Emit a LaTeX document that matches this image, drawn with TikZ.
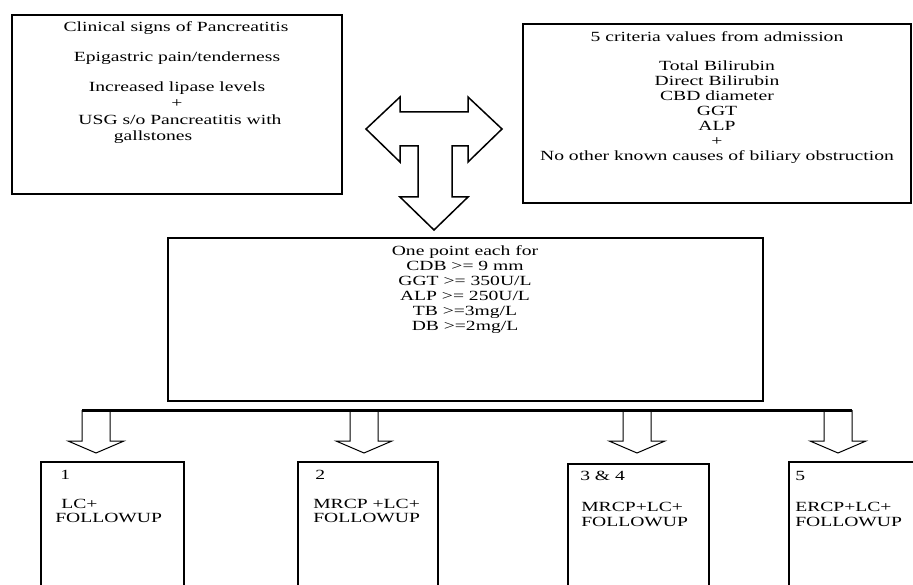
\documentclass[tikz,border=0pt]{standalone}
\usepackage{fontspec}
\setmainfont{Liberation Serif}
\usetikzlibrary{positioning}
\tikzset{
  box/.style={draw, line width=1.5pt, rectangle, inner sep=0pt},
  txt/.style={inner sep=0pt, xscale=1.4, font=\fontsize{14}{15}\selectfont, align=center},
  ltxt/.style={txt, anchor=west, align=left},
  blockarrow/.style={draw, line width=1pt, line join=miter},
}

\begin{document}
\begin{tikzpicture}[x=1pt,y=-1pt]
            \useasboundingbox (0,0) rectangle (913,585);
            % boxes
            \node[box, minimum width=330pt, minimum height=179pt] (signs) at (177,104.5) {};
            \node[box, minimum width=388pt, minimum height=179pt] (criteria) at (717,113.5) {};
            \node[box, minimum width=595pt, minimum height=163pt] (points) at (465.5,319.5) {};
            \node[box, minimum width=143pt, minimum height=140pt] (one) at (112.5,532) {};
            \node[box, minimum width=140pt, minimum height=140pt] (two) at (368,532) {};
            \node[box, minimum width=141pt, minimum height=138pt] (threefour) at (638.5,533) {};
            \node[box, minimum width=141pt, minimum height=140pt] (five) at (859.5,532) {};
            % T arrow between the top boxes
            \draw [blockarrow, line width=1.5pt] (366,129) -- (400,97) -- (400,112) -- (468,112) -- (468,97) -- (502,129) -- (468,162) -- (468,146) -- (452,146) -- (452,197) -- (468,197) -- (434,230) -- (400,197) -- (418,197) -- (418,146) -- (400,146) -- (400,162) -- cycle;
            % bar and small arrows
            \coordinate (barl) at (82,410);
            \coordinate (barr) at (852,410);
            \draw [line width=3pt] (barl) -- (barr);
            \foreach \cx in {96,364,637,838} {
                \draw [blockarrow] (\cx-14,410) -- (\cx-14,441) -- (\cx-28,441) -- (\cx,453) -- (\cx+28,441) -- (\cx+14,441) -- (\cx+14,410);
            }
            % texts, first box
            \node[txt] (clinical) at (176,28) {Clinical signs of Pancreatitis};
            \node[txt] (pain) at (177,58) {Epigastric pain/tenderness};
            \node[txt] (lipase) at (177,88) {Increased lipase levels};
            \node[txt] (plusa) at (177,104) {+};
            \node[txt] (usg) at (180,120) {USG s/o Pancreatitis with};
            \node[txt] (gall) at (153,137) {gallstones};
            % second box
            \node[txt] (crittitle) at (717,37) {5 criteria values from admission};
            \node[txt] (critlist) at (717,112) {Total Bilirubin\\Direct Bilirubin\\CBD diameter\\GGT\\ALP\\+\\No other known causes of biliary obstruction};
            % middle box
            \node[txt] (rules) at (465,289.5) {One point each for\\CDB >= 9 mm\\GGT >= 350U/L\\ALP >= 250U/L\\TB >=3mg/L\\DB >=2mg/L};
            % bottom boxes
            \node[ltxt] (numa) at (60,475) {1};
            \node[ltxt] (treata) at (61,504) {LC+};
            \node[ltxt] (folla) at (55,518) {FOLLOWUP};
            \node[ltxt] (numb) at (315,475) {2};
            \node[ltxt] (treatb) at (313,504) {MRCP +LC+};
            \node[ltxt] (follb) at (313,518) {FOLLOWUP};
            \node[ltxt] (numc) at (580,476) {3 \& 4};
            \node[ltxt] (treatc) at (581,507) {MRCP+LC+};
            \node[ltxt] (follc) at (581,522) {FOLLOWUP};
            \node[ltxt] (numd) at (795,476) {5};
            \node[ltxt] (treatd) at (795,507) {ERCP+LC+};
            \node[ltxt] (folld) at (795,522) {FOLLOWUP};
\end{tikzpicture}
\end{document}
